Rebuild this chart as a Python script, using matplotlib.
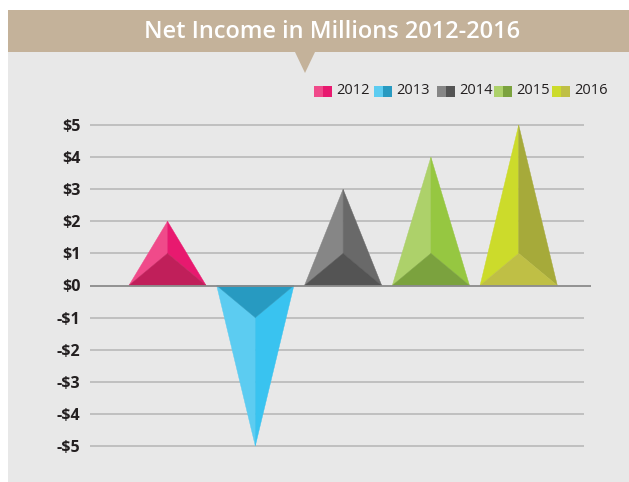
import matplotlib
matplotlib.use("Agg")
import matplotlib.pyplot as plt
from matplotlib.patches import Rectangle, Polygon

years = ["2012", "2013", "2014", "2015", "2016"]
values = [2, -5, 3, 4, 5]
inner = [1, -1, 1, 1, 1]
ytick_vals = [5, 4, 3, 2, 1, 0, -1, -2, -3, -4, -5]
ytick_labels = ["$5", "$4", "$3", "$2", "$1", "$0", "-$1", "-$2", "-$3", "-$4", "-$5"]
title = "Net Income in Millions 2012-2016"

left_cols = ["#F04A8A", "#5CCCF1", "#868686", "#ADD16A", "#CCDB2B"]
right_cols = ["#E8196F", "#39C3F0", "#696969", "#96C741", "#A6AA3A"]
front_cols = ["#C01F5A", "#279AC1", "#545454", "#7BA23E", "#BFBF45"]

W, H = 629, 482
fig = plt.figure(figsize=(W / 100, H / 100), dpi=100)
fig.patch.set_facecolor("white")

def fx(px):
    return px / W

def fy(py):
    return 1 - py / H

# background panel
fig.patches.append(Rectangle((fx(8), 0), 1 - fx(8), fy(52), transform=fig.transFigure,
                             facecolor="#E8E8E8", edgecolor="none", zorder=-5))
# banner
fig.patches.append(Rectangle((fx(8), fy(52)), 1 - fx(8), fy(10) - fy(52), transform=fig.transFigure,
                             facecolor="#C4B29A", edgecolor="none", zorder=-4))
fig.patches.append(Polygon([(fx(295), fy(52)), (fx(315), fy(52)), (fx(305), fy(73))],
                           closed=True, transform=fig.transFigure,
                           facecolor="#C4B29A", edgecolor="none", zorder=-4))
fig.text(fx(332), fy(31.5), title, color="white", fontsize=17, fontweight="semibold",
         family="Open Sans", ha="center", va="center", zorder=2)

# axes
ax_left, ax_right, ax_top, ax_bot = 90, 591, 100, 470
ax = fig.add_axes([fx(ax_left), fy(ax_bot), fx(ax_right) - fx(ax_left), fy(ax_top) - fy(ax_bot)])
ax.set_zorder(5)
ax.set_facecolor("none")
ax.patch.set_visible(False)
for s in ax.spines.values():
    s.set_visible(False)

ppu = 32.1
zero_px = 285.5
ax.set_ylim(-(ax_bot - zero_px) / ppu, (zero_px - ax_top) / ppu)
step = 87.8
c0 = 167.5
xmin = -(c0 - ax_left) / step
xmax = xmin + (ax_right - ax_left) / step
ax.set_xlim(xmin, xmax)

grid_end = xmin + (584 - ax_left) / step
for v in ytick_vals:
    if v == 0:
        ax.plot([xmin, xmax], [0, 0], color="#8A8A8A", lw=1.3, zorder=5, solid_capstyle="butt")
    else:
        ax.plot([xmin, grid_end], [v, v], color="#B8B8B8", lw=1.2, zorder=1, solid_capstyle="butt")

hw = 0.44
for i, (v, f) in enumerate(zip(values, inner)):
    c = i
    ax.add_patch(Polygon([(c - hw, 0), (c, v), (c, f)], closed=True, facecolor=left_cols[i],
                         edgecolor=left_cols[i], lw=0.3, zorder=3))
    ax.add_patch(Polygon([(c + hw, 0), (c, v), (c, f)], closed=True, facecolor=right_cols[i],
                         edgecolor=right_cols[i], lw=0.3, zorder=3))
    ax.add_patch(Polygon([(c - hw, 0), (c + hw, 0), (c, f)], closed=True, facecolor=front_cols[i],
                         edgecolor=front_cols[i], lw=0.3, zorder=4))

ax.set_xticks([])
ax.set_yticks(ytick_vals)
ax.set_yticklabels(ytick_labels)
ax.tick_params(axis="y", length=0, pad=7)
for lab in ax.get_yticklabels():
    lab.set_fontsize(11.5)
    lab.set_fontweight("bold")
    lab.set_family("Open Sans")
    lab.set_color("#231F20")

# legend
sq_x = [314, 374, 437, 494, 552]
for i, yr in enumerate(years):
    x0 = sq_x[i]
    fig.patches.append(Rectangle((fx(x0), fy(97)), fx(9), fy(86) - fy(97), transform=fig.transFigure,
                                 facecolor=left_cols[i], edgecolor="none", zorder=3))
    fig.patches.append(Rectangle((fx(x0 + 9), fy(97)), fx(9), fy(86) - fy(97), transform=fig.transFigure,
                                 facecolor=front_cols[i] if i != 0 else right_cols[i], edgecolor="none", zorder=3))
    fig.text(fx(x0 + 22), fy(91), yr, fontsize=10.5, family="Open Sans", color="#231F20",
             ha="left", va="center", zorder=3)

fig.savefig("out.png", dpi=100, facecolor=fig.get_facecolor())
